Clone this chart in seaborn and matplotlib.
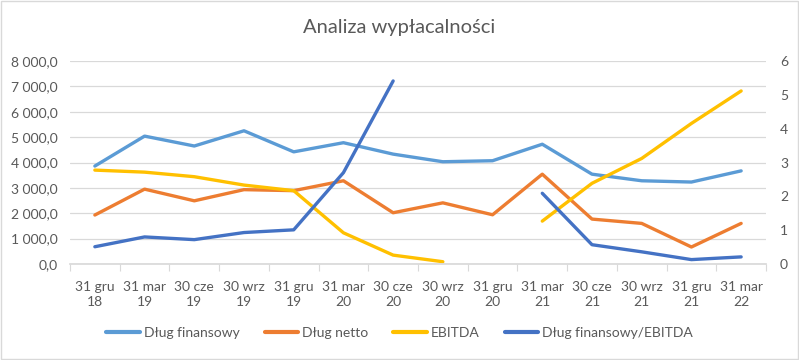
import numpy as np
import pandas as pd
import seaborn as sns
import matplotlib.pyplot as plt
from matplotlib.lines import Line2D
from matplotlib.ticker import FuncFormatter, MultipleLocator

okresy = ['31 gru\n18', '31 mar\n19', '30 cze\n19', '30 wrz\n19', '31 gru\n19', '31 mar\n20', '30 cze\n20',
          '30 wrz\n20', '31 gru\n20', '31 mar\n21', '30 cze\n21', '30 wrz\n21', '31 gru\n21', '31 mar\n22']
dlug_finansowy = [3860, 5040, 4650, 5250, 4420, 4780, 4330, 4030, 4070, 4720, 3540, 3280, 3230, 3670]
dlug_netto = [1930, 2950, 2490, 2930, 2890, 3280, 2020, 2410, 1940, 3540, 1770, 1600, 670, 1600]
ebitda = [3700, 3620, 3440, 3110, 2890, 1230, 350, 90, np.nan, 1690, 3180, 4160, 5540, 6820]
dlug_do_ebitda = [0.51, 0.80, 0.72, 0.93, 1.01, 2.70, 5.41, np.nan, np.nan, 2.09, 0.57, 0.36, 0.13, 0.21]

nazwy = ['Dług finansowy', 'Dług netto', 'EBITDA', 'Dług finansowy/EBITDA']
kolory = ['#5B9BD5', '#ED7D31', '#FFC000', '#4472C4']

df = pd.DataFrame({'x': range(len(okresy)), nazwy[0]: dlug_finansowy, nazwy[1]: dlug_netto,
                   nazwy[2]: ebitda, nazwy[3]: dlug_do_ebitda})

sns.set_theme(style='white')
plt.rcParams['font.family'] = ['Lato', 'DejaVu Sans']
szary = '#595959'
siatka = '#D9D9D9'

fig, ax = plt.subplots(figsize=(7.99, 3.6), dpi=100)
fig.subplots_adjust(left=70/799, right=766/799, top=1-61/360, bottom=1-264/360)
ax2 = ax.twinx()


def rysuj(os, kol, kolor):
    # przerwy w danych -> osobne odcinki linii
    s = df[['x', kol]].copy()
    s['seg'] = s[kol].isna().cumsum()
    s = s.dropna()
    sns.lineplot(data=s, x='x', y=kol, units='seg', estimator=None, color=kolor, lw=2.4,
                 solid_capstyle='round', solid_joinstyle='round', ax=os, legend=False)


for n, k in zip(nazwy[:3], kolory[:3]):
    rysuj(ax, n, k)
rysuj(ax2, nazwy[3], kolory[3])

ax.set_xlim(-0.5, len(okresy) - 0.5)
ax.set_ylim(0, 8000)
ax.yaxis.set_major_locator(MultipleLocator(1000))
ax.yaxis.set_major_formatter(FuncFormatter(lambda v, p: f'{v:,.1f}'.replace(',', ' ').replace('.', ',')))
ax2.set_ylim(0, 6)
ax2.yaxis.set_major_locator(MultipleLocator(1))

ax.set_xticks(range(len(okresy)))
ax.set_xticklabels(okresy, linespacing=1.3)
ax.set_xticks(np.arange(-0.5, len(okresy), 1), minor=True)
ax.tick_params(axis='x', which='major', length=0, pad=12.5, labelsize=10, labelcolor=szary)
ax.tick_params(axis='x', which='minor', length=5, width=0.8, color=siatka, bottom=True)
ax.tick_params(axis='y', length=0, pad=9, labelsize=10, labelcolor=szary)
ax2.tick_params(axis='y', length=0, pad=10, labelsize=10, labelcolor=szary)

ax.yaxis.grid(True, color=siatka, lw=0.9)
ax.xaxis.grid(False)
ax2.grid(False)
for sp in ax.spines.values():
    sp.set_visible(False)
for sp in ax2.spines.values():
    sp.set_visible(False)
ax.spines['bottom'].set_visible(True)
ax.spines['bottom'].set_color(siatka)
ax.set_xlabel('')
ax.set_ylabel('')
ax2.set_ylabel('')

fig.text(0.5, 1 - 27/360, 'Analiza wypłacalności', ha='center', va='center', fontsize=14.5, color=szary)

uchwyty = [Line2D([0], [0], color=k, lw=3) for k in kolory]
fig.legend(uchwyty, nazwy, loc='center', bbox_to_anchor=(0.5, 1 - 333/360), ncol=4, frameon=False,
           fontsize=10, handlelength=2.4, handletextpad=0.3, columnspacing=1.8, labelcolor=szary)

fig.add_artist(plt.Rectangle((0.001, 0.002), 0.998, 0.996, transform=fig.transFigure,
                             fill=False, edgecolor=siatka, lw=1))

fig.savefig('out.png', dpi=100)
